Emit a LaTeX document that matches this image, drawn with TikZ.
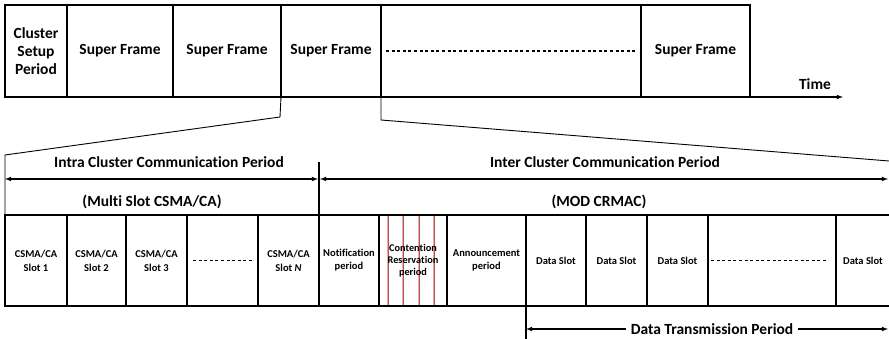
\documentclass[tikz,border=0pt]{standalone}
\usepackage{fontspec}
\setmainfont{Carlito}[Ligatures=NoCommon]
\usetikzlibrary{positioning, arrows}
\definecolor{crred}{RGB}{192,80,77}

\begin{document}
\begin{tikzpicture}[x=1pt, y=-1pt, node distance=0pt, >=latex,
  frame/.style={draw, line width=1.6pt, minimum height=92pt, inner sep=0pt, outer sep=0pt, align=center, font=\fontsize{15.5}{18}\selectfont\bfseries},
  slot/.style={draw, line width=1.6pt, minimum height=91pt, inner sep=0pt, outer sep=0pt, align=center, font=\fontsize{10.5}{14}\selectfont\bfseries},
  small/.style={font=\fontsize{10.5}{13}\selectfont\bfseries},
  label/.style={inner sep=1pt, font=\fontsize{15.5}{18}\selectfont\bfseries},
  dots/.style={dash pattern=on 3pt off 2.6pt, line width=1.1pt},
  period/.style={<->, line width=1.1pt},
  zoomline/.style={line width=0.9pt}]

\useasboundingbox (0,0) rectangle (889,339);

% super frames
\node[frame, minimum width=62pt, anchor=north west] (t0) at (5,5) {Cluster\\Setup\\Period};
\node[frame, minimum width=106pt, right=of t0] (t1) {Super Frame};
\node[frame, minimum width=108pt, right=of t1] (t2) {Super Frame};
\node[frame, minimum width=100pt, right=of t2] (t3) {Super Frame};
\node[frame, minimum width=260pt, right=of t3] (t4) {};
\node[frame, minimum width=109pt, right=of t4] (t5) {Super Frame};
\draw[dots] ([xshift=5pt]t4.west) -- ([xshift=-5pt]t4.east);

\coordinate (tend) at (843,97);
\draw[->, line width=1.1pt] (t5.south east) -- (tend);
\node[label] (time) at (815,84) {Time};

% slots
\node[slot, minimum width=62pt, anchor=north west] (s0) at (5,215) {CSMA/CA\\Slot 1};
\node[slot, minimum width=59pt, right=of s0] (s1) {CSMA/CA\\Slot 2};
\node[slot, minimum width=61pt, right=of s1] (s2) {CSMA/CA\\Slot 3};
\node[slot, minimum width=71pt, right=of s2] (s3) {};
\node[slot, minimum width=61pt, right=of s3] (s4) {CSMA/CA\\Slot {\itshape N}};
\node[slot, small, minimum width=60pt, right=of s4] (s5) {Notification\\period};
\node[slot, minimum width=68pt, right=of s5] (s6) {};
\node[slot, small, minimum width=79pt, right=of s6] (s7) {Announcement\\period};
\node[slot, small, minimum width=60pt, right=of s7] (s8) {Data Slot};
\node[slot, small, minimum width=61pt, right=of s8] (s9) {Data Slot};
\node[slot, small, minimum width=61pt, right=of s9] (s10) {Data Slot};
\node[slot, minimum width=128pt, right=of s10] (s11) {};
\node[slot, small, minimum width=54pt, right=of s11] (s12) {Data Slot};
\draw[dots] ([xshift=6pt]s3.west) -- ([xshift=-6pt]s3.east);
\draw[dots] ([xshift=3pt]s11.west) -- ([xshift=-8pt]s11.east);

\foreach \x in {388,403,419,434} {
  \draw[crred!45, line width=2.6pt] (\x,216) -- (\x,305);
  \draw[crred, line width=0.8pt] (\x,216) -- (\x,305);
}
\node[font=\fontsize{10.3}{11.7}\selectfont\bfseries, align=center, inner sep=0pt] (cr) at (s6.center) {Contention\\Reservation\\period};

% zoom from the third super frame
\coordinate (zl) at (280,117);
\coordinate (zr) at (381,120);
\coordinate (ze) at (889,161);
\coordinate (zc) at (5,155);
\draw[zoomline] (t3.south west) -- (zl) -- (zc) -- (s0.north west);
\draw[zoomline] (t3.south east) -- (zr) -- (ze);

% periods
\coordinate (p0) at (5,179);
\coordinate (p1) at (318,179);
\coordinate (p2) at (320,179);
\coordinate (p3) at (888,179);
\coordinate (pm) at (319,162);
\draw[line width=1.1pt] (pm) -- (s5.north west);
\draw[period] (p0) -- (p1);
\draw[period] (p2) -- (p3);
\node[label] (intra) at (169,162) {Intra Cluster Communication Period};
\node[label] (inter) at (605,162) {Inter Cluster Communication Period};
\node[label] (csma) at (152,202) {(Multi Slot CSMA/CA)};
\node[label] (crmac) at (599,202) {(MOD CRMAC)};

\coordinate (dv) at (526,339);
\coordinate (dt) at (888,329);
\draw[line width=1.1pt] (s8.south west) -- (dv);
\draw[period] (s8.south west |- dt) -- (dt);
\node[label, fill=white, inner xsep=5pt] (data) at (712,329) {Data Transmission Period};

\end{tikzpicture}
\end{document}
